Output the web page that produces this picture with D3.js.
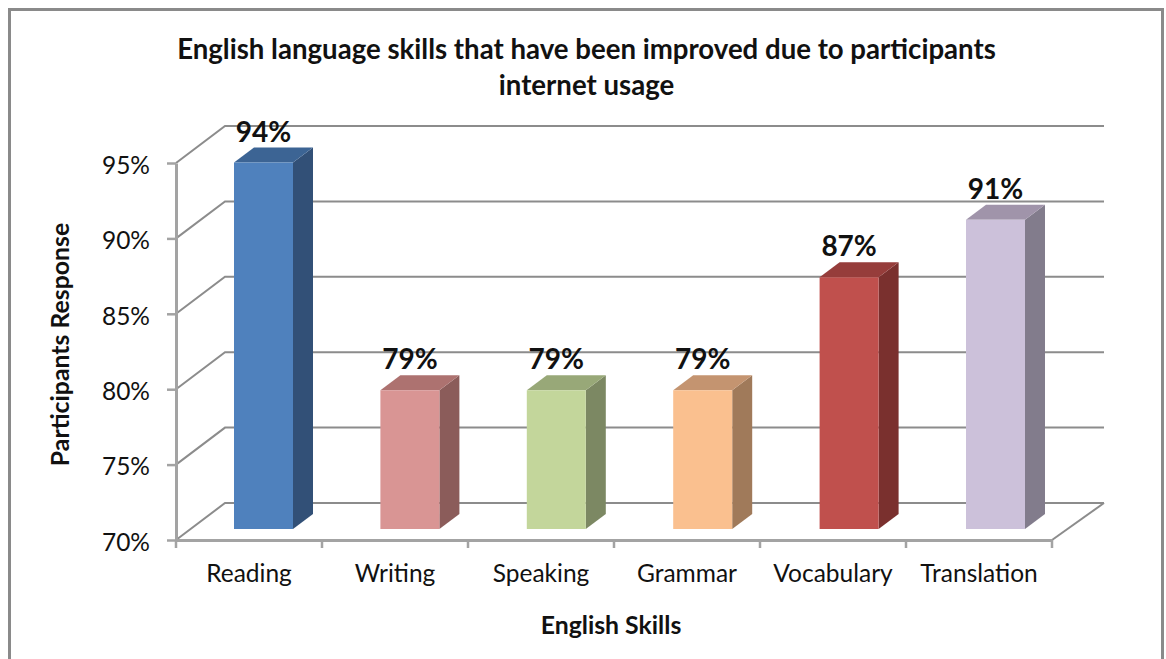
<!DOCTYPE html>
<html>
<head>
<meta charset="utf-8">
<script src="https://cdn.jsdelivr.net/npm/d3@7/dist/d3.min.js"></script>
<style>
html,body{margin:0;padding:0;background:#fff}
svg{display:block}
text{font-family:Lato,"Open Sans",sans-serif;fill:#111}
</style>
</head>
<body>
<svg id="chart" width="1166" height="659"></svg>
<script>
const categories = ["Reading","Writing","Speaking","Grammar","Vocabulary","Translation"];
const responses = [94.3,79.2,79.2,79.2,86.7,90.5];
const faceColors = ["#4f81bd","#d99594","#c3d69b","#fac08f","#c0504d","#ccc1da"];
const topColors = ["#3c6494","#ad7270","#98a878","#c49470","#963d3b","#a094aa"];
const sideColors = ["#325077","#8b5c5a","#7c8863","#a07a5a","#7a302e","#827c8c"];
const yTicks = [70,75,80,85,90,95];

const svg = d3.select("#chart");
const x = d3.scaleBand().domain(categories).range([176,1052]);
// Bars stand slightly inside the floor, so they get their own band scale
const barX = d3.scaleBand().domain(categories).range([190.3,1068.7]);
const y = d3.scaleLinear().domain([70,95]).range([540,163]);

// Oblique projection: floor depth, bar inset and bar thickness
const depth = {dx:49, dy:-37};
const backRight = 1104;
const insetY = -11;
const thick = {dx:20, dy:-15};
const barWidth = 59;
const gridColor = "#8c8c8c";
const axisColor = "#a3a3a3";

// Chart frame
svg.append("rect").attr("x",9.5).attr("y",9.5).attr("width",1153).attr("height",670)
  .attr("fill","#fff").attr("stroke","#8a8a8a").attr("stroke-width",3);

const title = svg.append("text").attr("text-anchor","middle")
  .style("font-size","27.6px").style("font-weight",700);
title.append("tspan").attr("x",586.5).attr("y",59).text("English language skills that have been improved due to participants");
title.append("tspan").attr("x",586.5).attr("y",95).text("internet usage");

// Back wall gridlines and side wall diagonals
const grid = svg.append("g").attr("fill","none").attr("stroke",gridColor).attr("stroke-width",2);
yTicks.forEach(t=>{
  const p = d3.path();
  p.moveTo(x.range()[0], y(t));
  p.lineTo(x.range()[0]+depth.dx, y(t)+depth.dy);
  p.lineTo(backRight, y(t)+depth.dy);
  grid.append("path").attr("d",p.toString());
});
const floorEdge = d3.path();
floorEdge.moveTo(x.range()[1], y(70));
floorEdge.lineTo(backRight, y(70)+depth.dy);
grid.append("path").attr("d",floorEdge.toString());

// Axes
const yAxis = d3.axisLeft(y).tickValues(yTicks).tickSize(9).tickSizeOuter(0).tickPadding(17).tickFormat(d=>d+"%");
const gy = svg.append("g").attr("transform","translate(176,0)").call(yAxis);
const xAxis = d3.axisBottom(x).tickSize(0).tickPadding(25);
const gx = svg.append("g").attr("transform","translate(0,540)").call(xAxis);
gx.append("g").selectAll("line")
  .data(d3.range(categories.length+1)).join("line")
  .attr("x1",i=>x.range()[0]+i*x.step()).attr("x2",i=>x.range()[0]+i*x.step())
  .attr("y1",0).attr("y2",8);
[gx,gy].forEach(g=>{
  g.selectAll(".domain").attr("stroke",axisColor).attr("stroke-width",3);
  g.selectAll("line").attr("stroke",axisColor).attr("stroke-width",2.5);
  g.selectAll("text").style("font-size","24.5px").attr("fill","#222").style("font-family","Lato,sans-serif");
});
gy.selectAll("text").attr("dy","0.42em");

// Bars: front face, top and right side
const bars = svg.append("g").selectAll("g").data(categories).join("g");
bars.each(function(c,i){
  const g = d3.select(this);
  const x0 = barX(c)+barX.bandwidth()/2-barWidth/2;
  const x1 = x0+barWidth;
  const yB = y(70)+insetY;
  const yT = yB-(y(70)-y(responses[i]));
  const poly = pts=>d3.line()(pts)+"Z";
  g.append("path").attr("fill",sideColors[i])
    .attr("d",poly([[x1,yT],[x1+thick.dx,yT+thick.dy],[x1+thick.dx,yB+thick.dy],[x1,yB]]));
  g.append("path").attr("fill",topColors[i])
    .attr("d",poly([[x0,yT],[x0+thick.dx,yT+thick.dy],[x1+thick.dx,yT+thick.dy],[x1,yT]]));
  g.append("path").attr("fill",faceColors[i])
    .attr("d",poly([[x0,yT],[x1,yT],[x1,yB],[x0,yB]]));
  g.append("text").attr("x",(x0+x1)/2).attr("y",yT-21)
    .attr("text-anchor","middle").style("font-size","28px").style("font-weight",700)
    .text(d3.format(".0f")(responses[i])+"%");
});

svg.append("text").attr("x",611).attr("y",634).attr("text-anchor","middle")
  .style("font-size","24.8px").style("font-weight",700).text("English Skills");
svg.append("text").attr("transform","translate(69,344.5) rotate(-90)").attr("text-anchor","middle")
  .style("font-size","24.8px").style("font-weight",700).text("Participants Response");
</script>
</body>
</html>
